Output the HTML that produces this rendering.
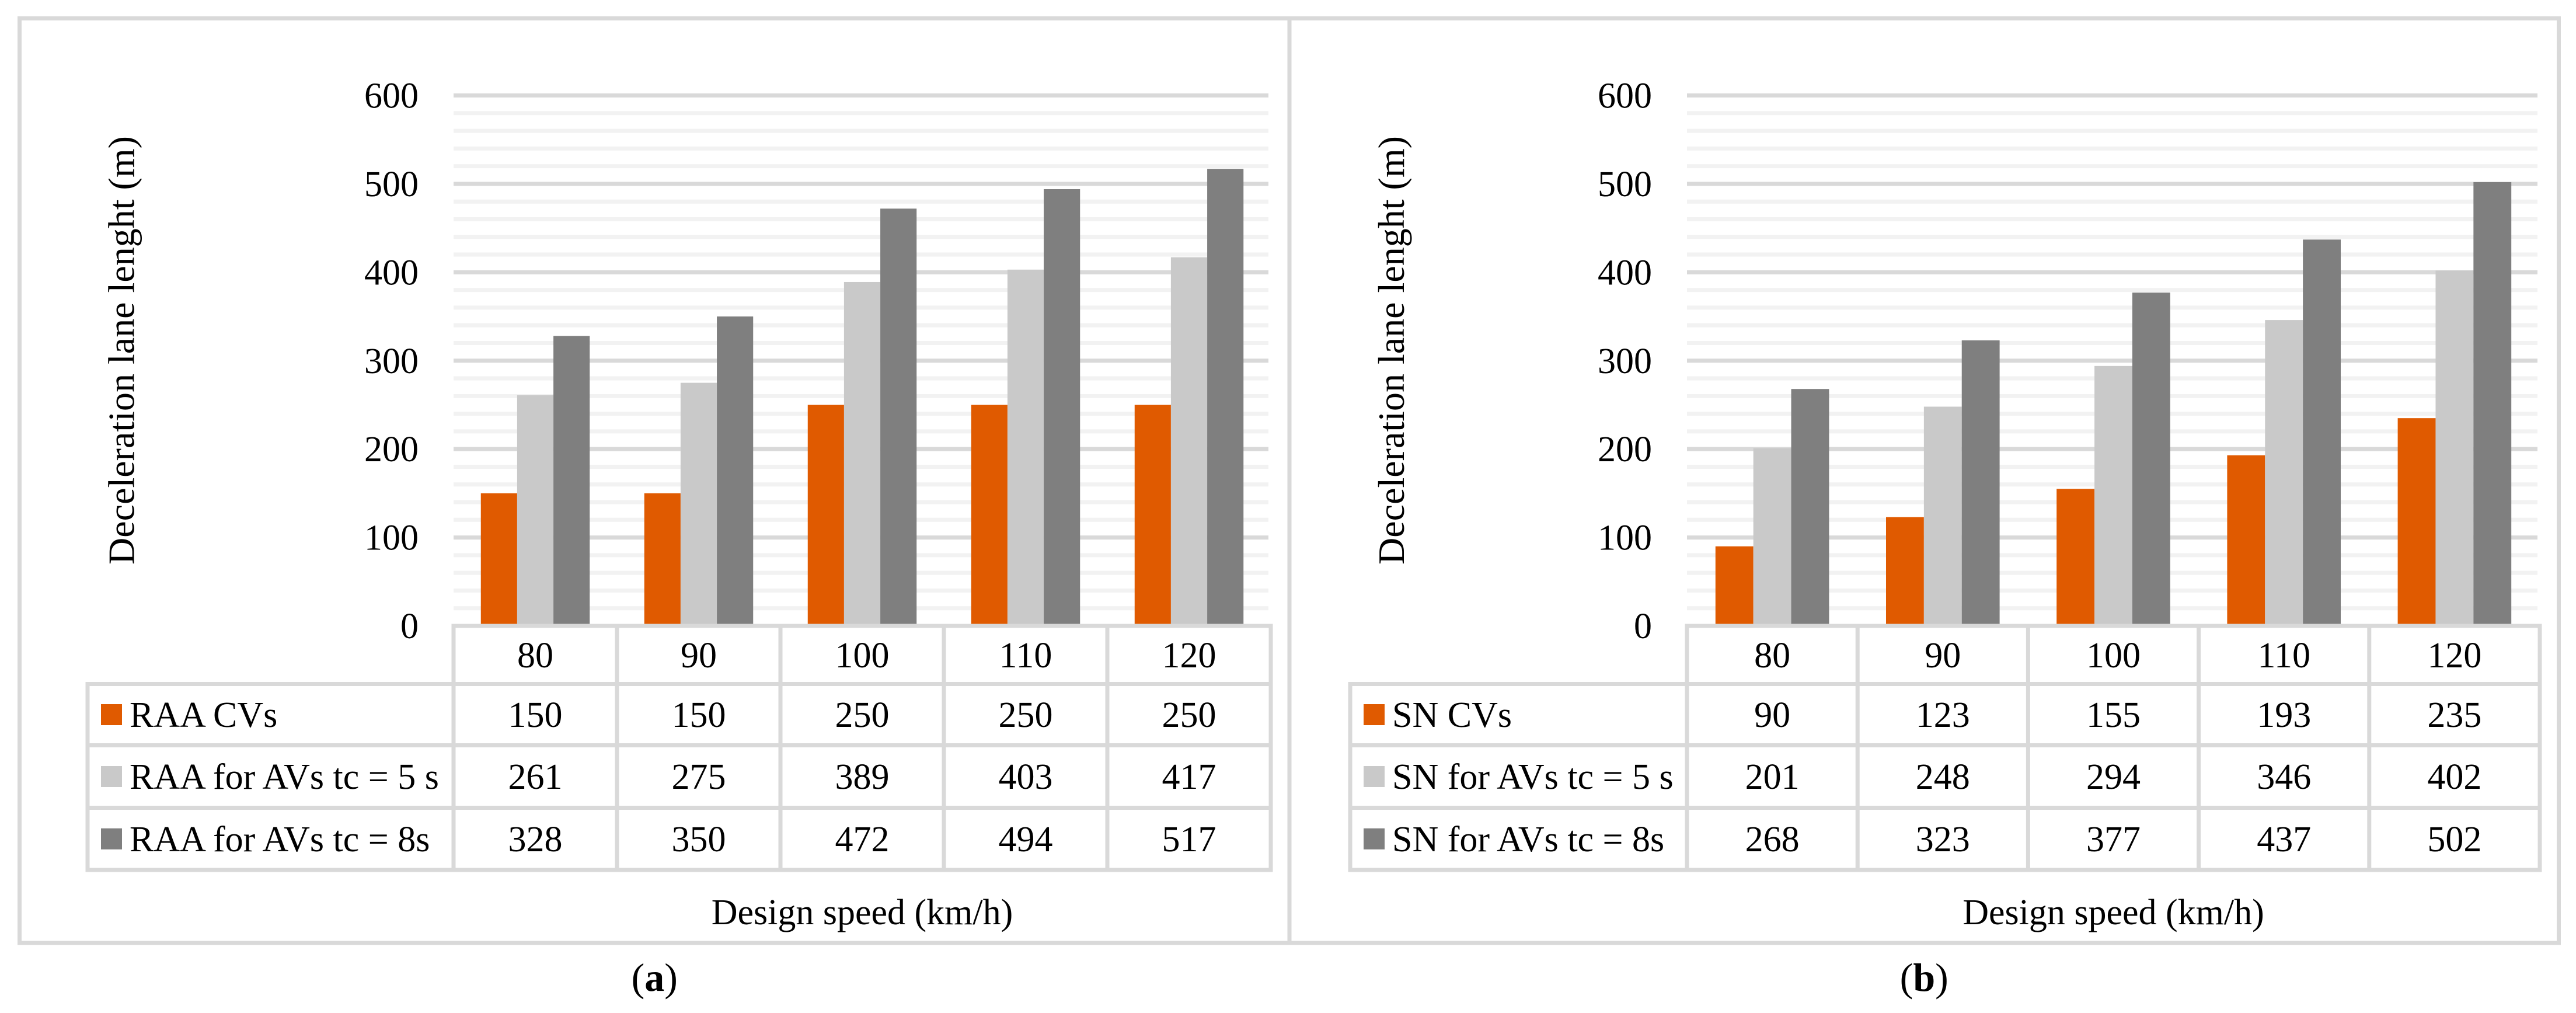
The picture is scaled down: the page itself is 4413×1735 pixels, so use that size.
<!DOCTYPE html>
<html><head><meta charset="utf-8">
<style>
html,body{margin:0;padding:0;background:#fff;}
svg{display:block;font-family:"Liberation Serif","DejaVu Serif",serif;}
svg text{font-family:"Liberation Serif","DejaVu Serif",serif;}
</style></head>
<body>
<svg id="chart" width="4413" height="1735" viewBox="0 0 4413 1735" xmlns="http://www.w3.org/2000/svg" font-family="Liberation Serif, DejaVu Serif, serif"></svg>
<script>
const categories = ["80","90","100","110","120"];
const yTicks = [0,100,200,300,400,500,600];
const seriesNamesA = ["RAA CVs","RAA for AVs tc = 5 s","RAA for AVs tc = 8s"];
const raaCVs = [150,150,250,250,250];
const raaAV5 = [261,275,389,403,417];
const raaAV8 = [328,350,472,494,517];
const seriesNamesB = ["SN CVs","SN for AVs tc = 5 s","SN for AVs tc = 8s"];
const snCVs = [90,123,155,193,235];
const snAV5 = [201,248,294,346,402];
const snAV8 = [268,323,377,437,502];

const NS = "http://www.w3.org/2000/svg";
const svg = document.getElementById('chart');
const colors = ["#e05a00","#c9c9c9","#7f7f7f"];
const FONT = '"Liberation Serif", "DejaVu Serif", serif';
const Y0 = 1072, Y600 = 163.5;
function yScale(v){ return Y0 - (v/600)*(Y0-Y600); }
function mk(tag, attrs, parent){
  const e = document.createElementNS(NS, tag);
  for (const k in attrs) e.setAttribute(k, attrs[k]);
  (parent||svg).appendChild(e);
  return e;
}
function txt(s, x, y, anchor, size, parent, weight){
  const t = mk('text', {x:x, y:y, 'text-anchor':anchor, 'font-size':size, fill:'#000'}, parent);
  t.setAttribute('font-family', FONT);
  t.style.fontFamily = FONT;
  if (weight) t.setAttribute('font-weight', weight);
  t.textContent = s;
  return t;
}

function panel(cfg){
  const g = mk('g', {});
  
  
  const box = mk('rect', {x:cfg.boxL, y:31.5, width:cfg.boxR-cfg.boxL, height:1615-31.5, fill:'none', stroke:'#d9d9d9', 'stroke-width':7}, g);
  
  
  const plotL = cfg.plotL, colW = cfg.colW, plotR = plotL + colW*categories.length;
  for (let v = 0; v <= 600; v += 20) {
    if (v === 0) continue;
    const major = v % 100 === 0;
    const gl = mk('line', {x1:plotL, x2:plotR-4, y1:yScale(v), y2:yScale(v), stroke: major ? '#d9d9d9' : '#f2f2f2', 'stroke-width':7}, g);
    
    
  }
  yTicks.forEach(v => {
    const t = txt(String(v), cfg.tickX, yScale(v)+21, 'end', 62, g);
    
    
  });
  const bw = colW*0.222;
  cfg.series.forEach((arr, si) => {
    arr.forEach((v, ci) => {
      const cx = plotL + colW*(ci+0.5);
      const x = cx - 1.5*bw + si*bw;
      const r = mk('rect', {x:x, y:yScale(v), width:bw, height:Y0-3.5-yScale(v), fill:colors[si]}, g);
      
      
    });
  });
  const rows = [Y0, 1171.5, 1276.5, 1383.5, 1490];
  const tl = cfg.tableL;
  const lineStyle = {stroke:'#d9d9d9', 'stroke-width':7};
  const ax = mk('line', Object.assign({x1:plotL-3.5, x2:plotR+3.5, y1:Y0, y2:Y0}, lineStyle), g);
  
  
  for (let i = 1; i < rows.length; i++) {
    const l = mk('line', Object.assign({x1:tl-3.5, x2:plotR+3.5, y1:rows[i], y2:rows[i]}, lineStyle), g);
    
    
  }
  const lv = mk('line', Object.assign({x1:tl, x2:tl, y1:rows[1], y2:rows[4]}, lineStyle), g);
  
  
  for (let c = 0; c <= categories.length; c++) {
    const x = plotL + colW*c;
    const l = mk('line', Object.assign({x1:x, x2:x, y1:Y0, y2:rows[4]}, lineStyle), g);
    
    
  }
  categories.forEach((c, ci) => {
    const t = txt(c, plotL + colW*(ci+0.5), (rows[0]+rows[1])/2 + 21, 'middle', 62, g);
    
    
  });
  cfg.series.forEach((arr, si) => {
    const ym = (rows[si+1]+rows[si+2])/2;
    const sq = mk('rect', {x:tl+23, y:ym-18, width:36, height:36, fill:colors[si]}, g);
    
    
    const lt = txt(cfg.names[si], tl+72, ym+21, 'start', 62, g);
    
    
    arr.forEach((v, ci) => {
      const t = txt(String(v), plotL + colW*(ci+0.5), ym+21, 'middle', 62, g);
      
      
    });
  });
  const yt = txt('Deceleration lane lenght (m)', 0, 0, 'middle', 64, g);
  yt.setAttribute('transform', 'translate(' + (cfg.boxL+196) + ',600) rotate(-90)');
  
  
  const xt = txt('Design speed (km/h)', (plotL+plotR)/2, 1583, 'middle', 62, g);
  
  
  const pl = mk('text', {x:(cfg.boxL+cfg.boxR)/2, y:1697, 'text-anchor':'middle', 'font-size':68, fill:'#000'}, svg);
  pl.setAttribute('font-family', FONT);
  pl.style.fontFamily = FONT;
  
  
  const s1 = document.createElementNS(NS,'tspan'); s1.textContent='('; pl.appendChild(s1);
  const s2 = document.createElementNS(NS,'tspan'); s2.textContent=cfg.letter; s2.setAttribute('font-weight','bold'); pl.appendChild(s2);
  const s3 = document.createElementNS(NS,'tspan'); s3.textContent=')'; pl.appendChild(s3);
}

panel({name:'panel-a-raa', letter:'a', boxL:33.5, boxR:2209, plotL:777, colW:280, tableL:150, tickX:717,
  series:[raaCVs, raaAV5, raaAV8], names:seriesNamesA});
panel({name:'panel-b-sn', letter:'b', boxL:2209, boxR:4383.5, plotL:2890, colW:292.2, tableL:2313, tickX:2830,
  series:[snCVs, snAV5, snAV8], names:seriesNamesB});
</script>
</body></html>
